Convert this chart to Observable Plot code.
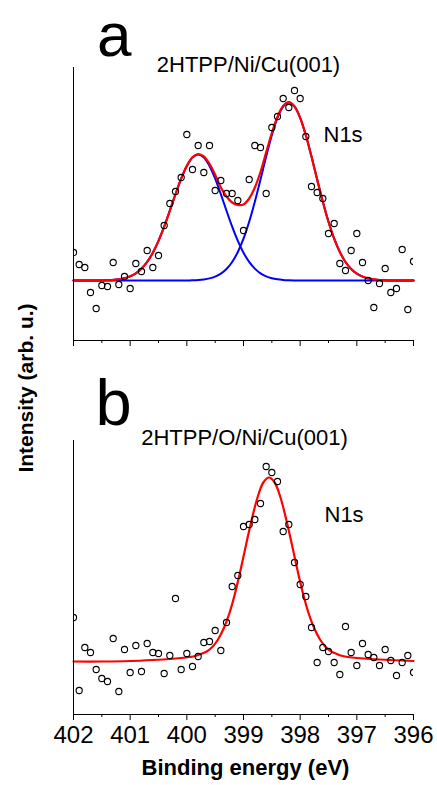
<!DOCTYPE html>
<html>
<head>
<meta charset="utf-8">
<script src="https://cdn.jsdelivr.net/npm/d3@7"></script>
<script src="https://cdn.jsdelivr.net/npm/@observablehq/plot@0.6"></script>
<style>
  body { margin: 0; background: #fff; }
  #wrap { position: relative; width: 437px; height: 785px; overflow: hidden;
          font-family: "Liberation Sans", Arial, sans-serif; color: #000; }
  .lbl { position: absolute; white-space: nowrap; line-height: 1; }
  svg { display: block; }
</style>
</head>
<body>
<div id="wrap">
  <div id="pa" style="position:absolute;left:0;top:0;"></div>
  <div id="pb" style="position:absolute;left:0;top:350px;"></div>
  <div class="lbl" style="left:97px;top:0px;font-size:62px;line-height:1.12;">a</div>
  <div class="lbl" style="left:248.5px;top:54.4px;font-size:22px;transform:translateX(-50%);">2HTPP/Ni/Cu(001)</div>
  <div class="lbl" style="left:323.5px;top:124.4px;font-size:22px;">N1s</div>
  <div class="lbl" style="left:95.6px;top:370px;font-size:65px;">b</div>
  <div class="lbl" style="left:244.5px;top:427.4px;font-size:22px;transform:translateX(-50%);">2HTPP/O/Ni/Cu(001)</div>
  <div class="lbl" style="left:324.5px;top:504.4px;font-size:22px;">N1s</div>
  <div class="lbl" style="left:245.5px;top:757.4px;font-size:22px;font-weight:bold;transform:translateX(-50%);">Binding energy (eV)</div>
  <div class="lbl" style="left:24.7px;top:388px;font-size:21px;font-weight:bold;transform:translate(-50%,-50%) rotate(-90deg);">Intensity (arb. u.)</div>
</div>
<script>
// ---- Data ----
const xDomain = [402, 396];
const majorTicks = [402, 401, 400, 399, 398, 397, 396];
const minorTicks = [401.5, 400.5, 399.5, 398.5, 397.5, 396.5];

const energy = [402.0, 401.9, 401.8, 401.7, 401.6, 401.5, 401.4, 401.3, 401.2, 401.1,
  401.0, 400.9, 400.8, 400.7, 400.6, 400.5, 400.4, 400.3, 400.2, 400.1,
  400.0, 399.9, 399.8, 399.7, 399.6, 399.5, 399.4, 399.3, 399.2, 399.1,
  399.0, 398.9, 398.8, 398.7, 398.6, 398.5, 398.4, 398.3, 398.2, 398.1,
  398.0, 397.9, 397.8, 397.7, 397.6, 397.5, 397.4, 397.3, 397.2, 397.1,
  397.0, 396.9, 396.8, 396.7, 396.6, 396.5, 396.4, 396.3, 396.2, 396.1, 396.0];

// Panel a: 2HTPP/Ni/Cu(001) measured points
const intensityA = [28, 16, 13, -12, -28, -5, -6, 18, -4, 4,
  -8, 17, 9, 30, 13, 25, 55, 77, 89, 103,
  146, 111, 135, 108, 135, 90, 100, 87, 87, 80,
  50, 101, 135, 133, 87, 153, 164, 182, 173, 190,
  182, 144, 94, 88, 82, 47, 57, 17, 10, 30,
  47, 18, 0, -27, -3, 12, -12, -8, 31, -29, 19];

// Panel a fit curves (read on the same energy grid)
const fitA_peak1 = [0, 0, 0, 0, 0, 0.1, 0.3, 0.6, 1.2, 2.3,
  4.2, 7.2, 11.9, 18.6, 27.8, 39.6, 53.8, 69.8, 86.3, 101.9,
  114.6, 123.1, 126, 123.1, 114.6, 101.9, 86.3, 69.8, 53.8, 39.6,
  27.8, 18.6, 11.9, 7.2, 4.2, 2.3, 1.2, 0.6, 0.3, 0.1,
  0, 0, 0, 0, 0, 0, 0, 0, 0, 0,
  0, 0, 0, 0, 0, 0, 0, 0, 0, 0, 0];
const fitA_peak2 = [0, 0, 0, 0, 0, 0, 0, 0, 0, 0,
  0, 0, 0, 0, 0, 0, 0, 0, 0, 0,
  0, 0.2, 0.5, 1.1, 2.1, 3.9, 6.8, 11.5, 18.5, 28.5,
  41.8, 58.7, 78.8, 101.1, 123.9, 145.2, 162.6, 174.0, 178, 174.0,
  162.6, 145.2, 123.9, 101.1, 78.8, 58.7, 41.8, 28.5, 18.5, 11.5,
  6.8, 3.9, 2.1, 1.1, 0.5, 0.2, 0, 0, 0, 0, 0];
const fitA_total = [0, 0, 0, 0, 0, 0.1, 0.3, 0.6, 1.2, 2.3,
  4.2, 7.2, 11.9, 18.6, 27.8, 39.6, 53.8, 69.8, 86.3, 101.9,
  114.6, 123.3, 126.5, 124.2, 116.7, 105.8, 93.1, 84, 78, 75.5,
  76, 82, 93, 108.5, 128.1, 147.5, 163.8, 174.6, 178.3, 174.1,
  162.6, 145.2, 123.9, 101.1, 78.8, 58.7, 41.8, 28.5, 18.5, 11.5,
  6.8, 3.9, 2.1, 1.1, 0.5, 0.2, 0, 0, 0, 0, 0];

// Panel b: 2HTPP/O/Ni/Cu(001) measured points
const intensityB = [44, -29, 14, 9, -8, -17, -20, 23, -30, 12,
  -11, 16, -10, 18, 9, 8, -12, 6, 63, -8,
  8, -5, 5, 19, 20, 31, 11, 39, 75, 86,
  135, 137, 142, 158, 195, 189, 180, 130, 137, 99,
  77, 65, 34, -1, 14, 10, -1, -13, 35, 9,
  -4, 18, 7, 4, -4, 12, 1, -14, -1, 6, -11];

// Panel b fit curve
const fitEnergyB = [402.0, 401.5, 401.0, 400.6, 400.3, 400.1,
  399.95, 399.85, 399.75, 399.65, 399.55, 399.45, 399.35, 399.25, 399.15, 399.05,
  398.95, 398.85, 398.75, 398.65, 398.55, 398.45, 398.35, 398.25, 398.15, 398.05,
  397.95, 397.85, 397.75, 397.65, 397.55, 397.45, 397.35, 397.25, 397.0, 396.6, 396.0];
const fitB = [0, 0, 0.5, 1.5, 2.5, 3.5,
  4.5, 5.5, 7.5, 10, 14.5, 22, 33, 48, 68, 92,
  118, 143, 164.5, 179, 184, 179, 164.5, 143, 118, 92,
  68, 48, 33, 22, 14.5, 10, 7.5, 5.5, 3.5, 2, 0.5];

const yDomainA = [-60, 213];
const yDomainB = [-53, 221];

// ---- Tables ----
const pointsA = energy.map((E, i) => ({E, I: intensityA[i]}));
const pointsB = energy.map((E, i) => ({E, I: intensityB[i]}));
const curvesA = energy.map((E, i) => ({E, p1: fitA_peak1[i], p2: fitA_peak2[i], t: fitA_total[i]}));
const curveB = fitEnergyB.map((E, i) => ({E, t: fitB[i]}));

const font = '"Liberation Sans", Arial, sans-serif';
const dotOpts = {x: "E", y: "I", r: 3.1, stroke: "black", strokeWidth: 1.1, fill: "none", clip: "frame"};

const pa = Plot.plot({
  width: 437, height: 350,
  marginTop: 67, marginBottom: 10, marginLeft: 73, marginRight: 24,
  x: {domain: xDomain, label: null},
  y: {domain: yDomainA, axis: null},
  style: {fontFamily: font, color: "black", background: "transparent", overflow: "visible"},
  marks: [
    Plot.line(curvesA, {x: "E", y: "p1", stroke: "#0000ff", strokeWidth: 2, curve: "catmull-rom"}),
    Plot.line(curvesA, {x: "E", y: "p2", stroke: "#0000ff", strokeWidth: 2, curve: "catmull-rom"}),
    Plot.line(curvesA, {x: "E", y: "t", stroke: "#ff0000", strokeWidth: 2.2, curve: "catmull-rom"}),
    Plot.dot(pointsA, dotOpts),
    Plot.ruleX([xDomain[0]], {stroke: "black", strokeWidth: 1}),
    Plot.ruleY([yDomainA[0]], {stroke: "black", strokeWidth: 1}),
    Plot.axisX(majorTicks, {tickSize: 6, tickFormat: () => "", label: null}),
    Plot.axisX(minorTicks, {tickSize: 3, tickFormat: () => "", label: null})
  ]
});
document.getElementById("pa").appendChild(pa);

const pb = Plot.plot({
  width: 437, height: 435,
  marginTop: 90, marginBottom: 71, marginLeft: 73, marginRight: 24,
  x: {domain: xDomain, label: null},
  y: {domain: yDomainB, axis: null},
  style: {fontFamily: font, fontSize: "24px", color: "black", background: "transparent", overflow: "visible"},
  marks: [
    Plot.line(curveB, {x: "E", y: "t", stroke: "#ff0000", strokeWidth: 2.2, curve: "catmull-rom"}),
    Plot.dot(pointsB, dotOpts),
    Plot.ruleX([xDomain[0]], {stroke: "black", strokeWidth: 1}),
    Plot.ruleY([yDomainB[0]], {stroke: "black", strokeWidth: 1}),
    Plot.axisX(majorTicks, {tickSize: 6, tickPadding: 5, tickFormat: d => String(d), label: null, fontSize: 24}),
    Plot.axisX(minorTicks, {tickSize: 3, tickFormat: () => "", label: null})
  ]
});
document.getElementById("pb").appendChild(pb);
</script>
</body>
</html>
